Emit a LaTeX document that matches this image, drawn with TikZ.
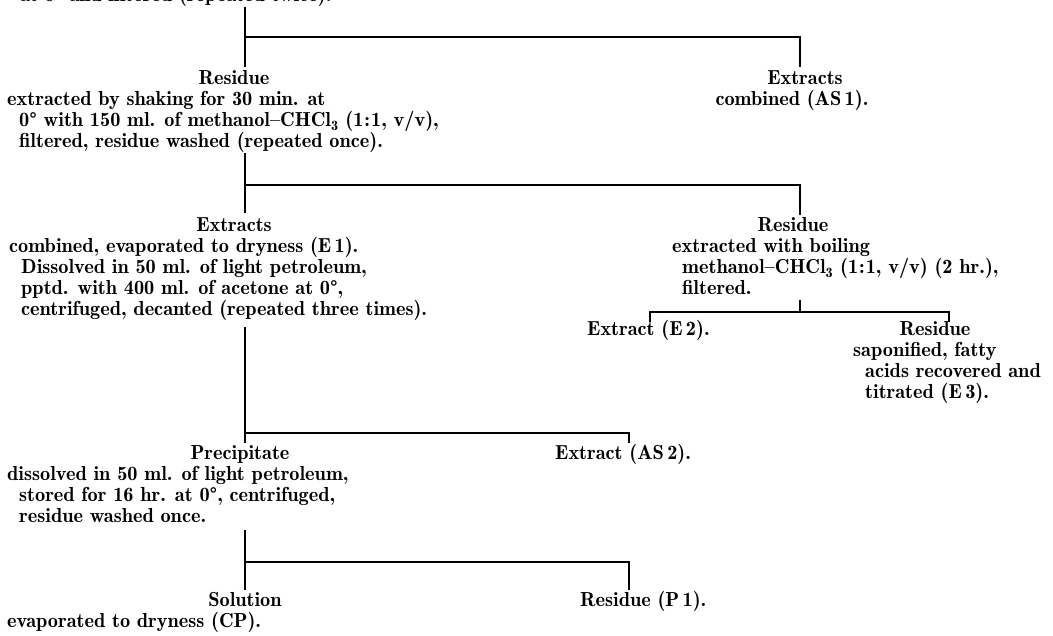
\documentclass[tikz,border=0pt]{standalone}
\usepackage{fontspec}
\setmainfont{lmromandemi10-regular.otf}
\newcommand\blk[1]{\vtop{\baselineskip=21pt\lineskiplimit=-100pt\lineskip=0pt\halign{##\hfil\cr#1\crcr}}}
\newcommand\ind{\hskip12pt}
\tikzset{
  txt/.style={inner sep=0pt, font=\fontsize{20.3}{21}\selectfont},
  ttl/.style={txt, anchor=base},
  body/.style={txt, anchor=base west},
  conn/.style={line width=1.7pt, line cap=butt, line join=miter}
}
\begin{document}
\begin{tikzpicture}[x=1pt,y=-1pt]
\useasboundingbox (0,0) rectangle (1053,636);
% texts
\node[body] (top) at (20,2) {at 0° and filtered (repeated twice).};
\node[ttl] (res1) at (234,85) {Residue};
\node[body] (res1b) at (7,106) {\blk{extracted by shaking for 30 min. at\cr
 \ind 0° with 150 ml. of methanol–CHCl\textsubscript{3} (1\kern1pt:\kern1pt1, v/v),\cr
 \ind filtered, residue washed (repeated once).}};
\node[ttl] (ext1) at (805,85) {Extracts};
\node[ttl] (ext1b) at (792,106) {combined (AS\,1).};
\node[ttl] (ext2) at (234,232) {Extracts};
\node[body] (ext2b) at (9,253) {\blk{combined, evaporated to dryness (E\,1).\cr
 \ind Dissolved in 50 ml. of light petroleum,\cr
 \ind pptd. with 400 ml. of acetone at 0°,\cr
 \ind centrifuged, decanted (repeated three times).}};
\node[ttl] (res2) at (793,232) {Residue};
\node[body] (res2b) at (672,253) {\blk{extracted with boiling\cr
 \hskip10pt methanol–CHCl\textsubscript{3} (1\kern1pt:\kern1pt1, v/v) (2 hr.),\cr
 \hskip10pt filtered.}};
\node[body] (e2) at (587,336) {Extract (E\,2).};
\node[ttl] (res3) at (935,336) {Residue};
\node[body] (res3b) at (853,357) {\blk{saponified, fatty\cr
 \ind acids recovered and\cr
 \ind titrated (E\,3).}};
\node[ttl] (prec) at (240,459) {Precipitate};
\node[body] (precb) at (7,480) {\blk{dissolved in 50 ml. of light petroleum,\cr
 \ind stored for 16 hr. at 0°, centrifuged,\cr
 \ind residue washed once.}};
\node[body] (as2) at (555,459) {Extract (AS\,2).};
\node[ttl] (sol) at (245,606) {Solution};
\node[body] (solb) at (7,627) {evaporated to dryness (CP).};
\node[body] (p1) at (580,606) {Residue (P\,1).};
% connector coordinates
\coordinate (a0) at (245,7);   \coordinate (a1) at (245,67);
\coordinate (aj) at (245,37);  \coordinate (ar) at (800,37); \coordinate (ae) at (800,67);
\coordinate (b0) at (245,153); \coordinate (b1) at (245,213);
\coordinate (bj) at (245,185); \coordinate (br) at (800,185); \coordinate (be) at (800,215);
\coordinate (c0) at (800,300); \coordinate (cj) at (800,312);
\coordinate (cl) at (650,312); \coordinate (cle) at (650,322);
\coordinate (cr) at (949,312); \coordinate (cre) at (949,322);
\coordinate (d0) at (245,327); \coordinate (d1) at (245,443);
\coordinate (dj) at (245,433); \coordinate (dr) at (629,433); \coordinate (de) at (629,443);
\coordinate (f0) at (245,530); \coordinate (f1) at (245,590);
\coordinate (fj) at (245,562); \coordinate (fr) at (629,562); \coordinate (fe) at (629,590);
% connectors
\draw[conn] (a0) -- (a1);
\draw[conn] (aj) -- (ar) -- (ae);
\draw[conn] (b0) -- (b1);
\draw[conn] (bj) -- (br) -- (be);
\draw[conn] (c0) -- (cj);
\draw[conn] (cle) -- (cl) -- (cr) -- (cre);
\draw[conn] (d0) -- (d1);
\draw[conn] (dj) -- (dr) -- (de);
\draw[conn] (f0) -- (f1);
\draw[conn] (fj) -- (fr) -- (fe);
\end{tikzpicture}
\end{document}
